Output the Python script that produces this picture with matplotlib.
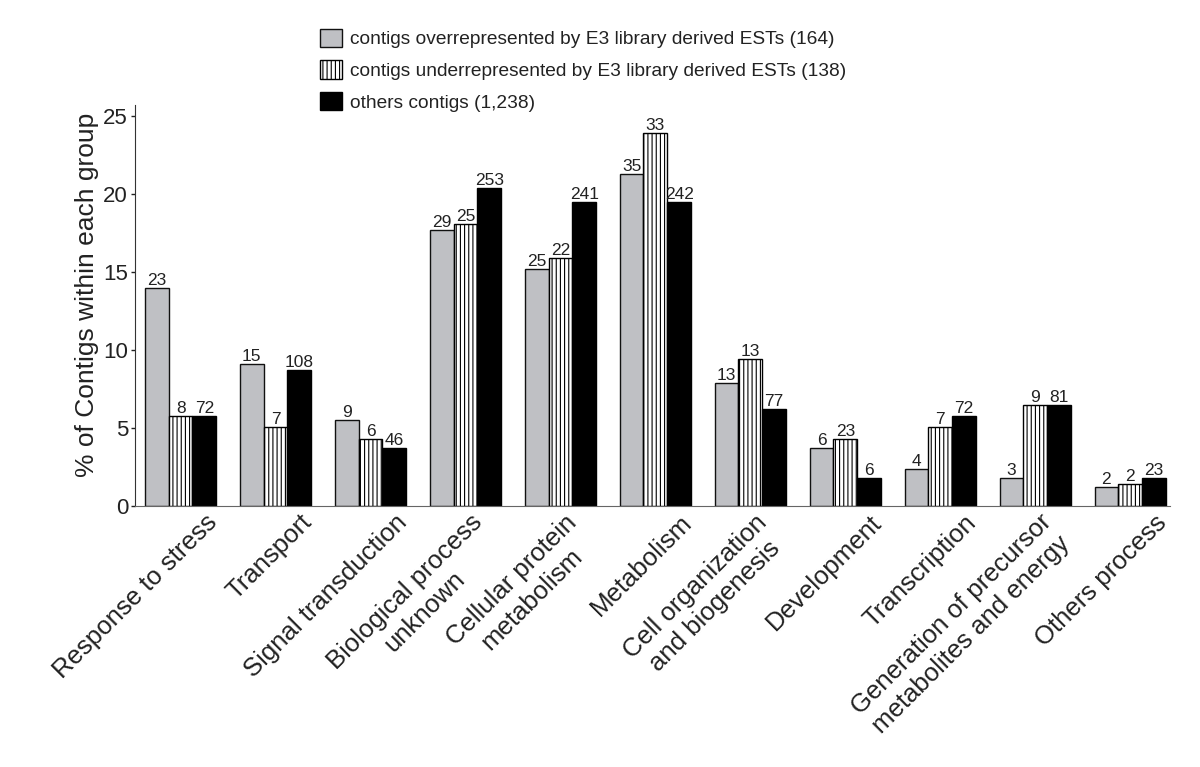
import matplotlib
matplotlib.use("Agg")
import matplotlib.pyplot as plt
import matplotlib.transforms as mtransforms
import numpy as np

plt.rcParams['font.family'] = ['Liberation Sans', 'DejaVu Sans']
plt.rcParams['hatch.linewidth'] = 0.8

categories = ["Response to stress", "Transport", "Signal transduction",
              "Biological process\nunknown", "Cellular protein\nmetabolism",
              "Metabolism", "Cell organization\nand biogenesis", "Development",
              "Transcription", "Generation of precursor\nmetabolites and energy",
              "Others process"]

over_pct = [14.0, 9.1, 5.5, 17.7, 15.2, 21.3, 7.9, 3.7, 2.4, 1.8, 1.2]
under_pct = [5.8, 5.1, 4.3, 18.1, 15.9, 23.9, 9.4, 4.3, 5.1, 6.5, 1.4]
other_pct = [5.8, 8.7, 3.7, 20.4, 19.5, 19.5, 6.2, 1.8, 5.8, 6.5, 1.8]

over_cnt = ["23", "15", "9", "29", "25", "35", "13", "6", "4", "3", "2"]
under_cnt = ["8", "7", "6", "25", "22", "33", "13", "23", "7", "9", "2"]
other_cnt = ["72", "108", "46", "253", "241", "242", "77", "6", "72", "81", "23"]

series_names = ["contigs overrepresented by E3 library derived ESTs (164)",
                "contigs underrepresented by E3 library derived ESTs (138)",
                "others contigs (1,238)"]

txt = '#222222'
fig = plt.figure(figsize=(12, 7.67), dpi=100)
ax = fig.add_axes([0.1125, 0.340, 0.8625, 0.523])

x = np.arange(len(categories))
w = 0.25
b1 = ax.bar(x - w, over_pct, w, color='#bfc0c4', edgecolor='#111111', linewidth=1.0, label=series_names[0])
b2 = ax.bar(x, under_pct, w, color='white', edgecolor='black', linewidth=1.0, hatch='||||', label=series_names[1])
b3 = ax.bar(x + w, other_pct, w, color='black', edgecolor='black', linewidth=1.0, label=series_names[2])

for bars, labs in ((b1, over_cnt), (b2, under_cnt), (b3, other_cnt)):
    ax.bar_label(bars, labels=labs, padding=0, fontsize=12.5, color=txt)

ax.set_xlim(-0.48, 10.42)
ax.set_ylim(0, 25.7)
ax.set_yticks([0, 5, 10, 15, 20, 25])
ax.tick_params(axis='y', labelsize=16, colors=txt, length=3, width=1, pad=2)
ax.set_ylabel('% of Contigs within each group', fontsize=19, color=txt)
ax.yaxis.set_label_coords(-0.035, 0.527)
ax.spines['top'].set_visible(False)
ax.spines['right'].set_visible(False)
ax.spines['left'].set_color('#333')
ax.spines['bottom'].set_color('#666')

ax.set_xticks(x)
ax.set_xticklabels(categories, rotation=45, ha='right', va='top', rotation_mode='default',
                   fontsize=18.5, color=txt, multialignment='center')
ax.tick_params(axis='x', length=0, pad=0)
offset = mtransforms.ScaledTranslation(0.41, -0.04, fig.dpi_scale_trans)
for lab in ax.get_xticklabels():
    lab.set_transform(lab.get_transform() + offset)

fig.legend(handles=[b1, b2, b3], labels=series_names, loc='upper left',
           bbox_to_anchor=(0.252, 0.985), frameon=False, fontsize=13.8,
           handlelength=1.15, handleheight=1.1, handletextpad=0.45, labelspacing=0.62,
           labelcolor=txt)

fig.savefig('out.png', dpi=100, facecolor='white')
